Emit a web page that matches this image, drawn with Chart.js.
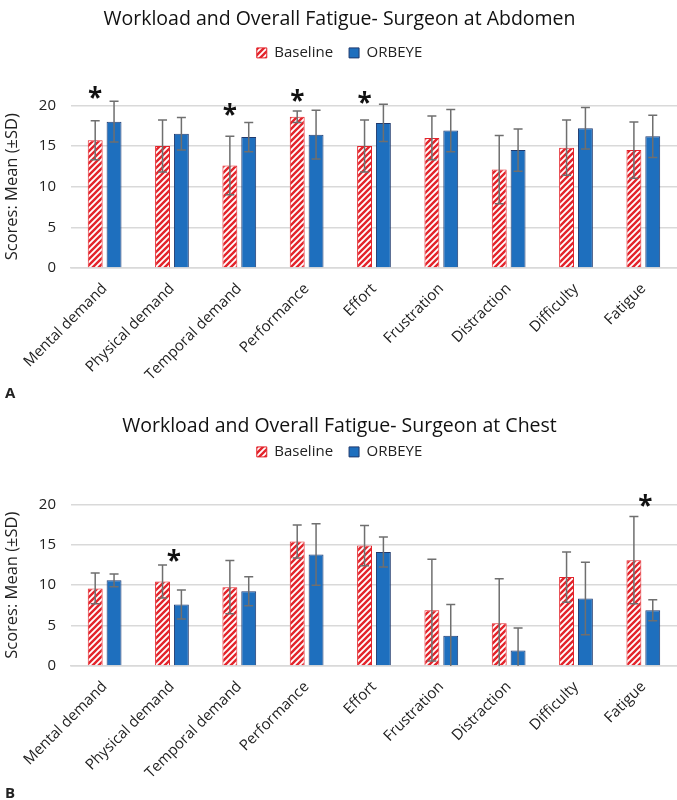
<!DOCTYPE html>
<html>
<head>
<meta charset="utf-8">
<script src="https://cdn.jsdelivr.net/npm/chart.js@4/dist/chart.umd.min.js"></script>
<style>
  body { margin: 0; background: #fff; }
  .panel { position: relative; width: 677px; }
  .tag { position: absolute; left: 5px; font: bold 15px "Open Sans", sans-serif; color: #222; }
</style>
</head>
<body>
<div class="panel" style="height:410px"><canvas id="chartA"></canvas><div class="tag" style="top:382px">A</div></div>
<div class="panel" style="height:390px"><canvas id="chartB"></canvas><div class="tag" style="top:372px">B</div></div>
<script>
const categories = ['Mental demand', 'Physical demand', 'Temporal demand', 'Performance', 'Effort', 'Frustration', 'Distraction', 'Difficulty', 'Fatigue'];
const yTicks = [0, 5, 10, 15, 20];

// Surgeon at abdomen
const abdBaseline = [15.7, 15.0, 12.6, 18.6, 15.0, 16.0, 12.1, 14.8, 14.5];
const abdBaselineSD = [2.4, 3.2, 3.6, 0.7, 3.2, 2.7, 4.2, 3.4, 3.45];
const abdOrbeye = [18.0, 16.5, 16.1, 16.4, 17.85, 16.9, 14.5, 17.2, 16.2];
const abdOrbeyeSD = [2.5, 2.0, 1.8, 3.0, 2.3, 2.6, 2.6, 2.55, 2.6];
const abdStarIdx = [0, 2, 3, 4];
const abdStarY = [21.4, 19.3, 21.1, 20.8];

// Surgeon at chest
const chestBaseline = [9.6, 10.45, 9.75, 15.4, 14.9, 6.9, 5.3, 11.0, 13.1];
const chestBaselineSD = [1.9, 2.05, 3.3, 2.05, 2.5, 6.3, 5.5, 3.1, 5.4];
const chestOrbeye = [10.6, 7.6, 9.25, 13.8, 14.1, 3.75, 1.9, 8.35, 6.9];
const chestOrbeyeSD = [0.8, 1.8, 1.8, 3.8, 1.85, 3.85, 2.8, 4.5, 1.3];
const chestStarIdx = [1, 8];
const chestStarY = [13.5, 20.3];

const FONT = '"Open Sans", sans-serif';
const RED = '#e3242b';
const BLUE = '#1e6fbe';
const NAVY = '#203a6e';

// red/white diagonal hatch
function makeHatch() {
    const c = document.createElement('canvas');
    c.width = 6; c.height = 6;
    const g = c.getContext('2d');
    g.fillStyle = '#fff';
    g.fillRect(0, 0, 6, 6);
    g.strokeStyle = RED;
    g.lineWidth = 2.4;
    g.beginPath();
    g.moveTo(-3, 3); g.lineTo(3, -3);
    g.moveTo(0, 6); g.lineTo(6, 0);
    g.moveTo(3, 9); g.lineTo(9, 3);
    g.stroke();
    return g.createPattern(c, 'repeat');
}
const hatch = makeHatch();

// error bars (mean +/- SD)
const errorBars = {
    id: 'errorBars',
    afterDatasetsDraw(chart) {
        const ctx = chart.ctx;
        const ys = chart.scales.y;
        const area = chart.chartArea;
        ctx.save();
        ctx.strokeStyle = '#6f6f6f';
        ctx.lineWidth = 1.5;
        chart.data.datasets.forEach(function(ds, di) {
            const meta = chart.getDatasetMeta(di);
            meta.data.forEach(function(bar, i) {
                const v = ds.data[i], sd = ds.sd[i];
                const top = ys.getPixelForValue(v + sd);
                const lowRaw = ys.getPixelForValue(v - sd);
                const low = Math.min(lowRaw, area.bottom);
                ctx.beginPath();
                ctx.moveTo(bar.x, top); ctx.lineTo(bar.x, low);
                ctx.moveTo(bar.x - 4.5, top); ctx.lineTo(bar.x + 4.5, top);
                if (lowRaw <= area.bottom) {
                    ctx.moveTo(bar.x - 4.5, low); ctx.lineTo(bar.x + 4.5, low);
                }
                ctx.stroke();
            });
        });
        ctx.restore();
    }
};

// significance asterisks
const stars = {
    id: 'stars',
    afterDraw(chart, args, opts) {
        const ctx = chart.ctx;
        const m0 = chart.getDatasetMeta(0), m1 = chart.getDatasetMeta(1);
        ctx.save();
        ctx.fillStyle = '#111';
        ctx.font = 'bold 26px ' + FONT;
        ctx.textAlign = 'center';
        ctx.textBaseline = 'middle';
        opts.idx.forEach(function(i, k) {
            const x = m0.data[i].x + (m1.data[i].x - m0.data[i].x) * opts.shift;
            const y = chart.scales.y.getPixelForValue(opts.y[k]);
            ctx.fillText('*', x, y + 6);
        });
        ctx.restore();
    }
};

// extra room under the legend
const legendGap = {
    id: 'legendGap',
    beforeInit(chart, args, opts) {
        const origFit = chart.legend.fit;
        chart.legend.fit = function() {
            origFit.bind(chart.legend)();
            this.height += opts.gap;
        };
    }
};

function createPanel(canvasId, title, base, baseSD, orb, orbSD, starIdx, starY, starShift, titlePad, gap, padBottom) {
    return new Chart(document.getElementById(canvasId), {
        type: 'bar',
        data: {
            labels: categories,
            datasets: [{
                label: 'Baseline',
                data: base,
                sd: baseSD,
                backgroundColor: hatch,
                borderColor: RED,
                borderWidth: 1,
                categoryPercentage: 0.56,
                barPercentage: 0.79
            }, {
                label: 'ORBEYE',
                data: orb,
                sd: orbSD,
                backgroundColor: BLUE,
                borderColor: NAVY,
                borderWidth: 1,
                categoryPercentage: 0.56,
                barPercentage: 0.79
            }]
        },
        options: {
            responsive: true,
            maintainAspectRatio: false,
            animation: false,
            layout: { padding: { left: 2, right: 0, top: 0, bottom: padBottom } },
            scales: {
                x: {
                    grid: { display: false },
                    border: { color: '#d9d9d9', width: 1.5 },
                    ticks: {
                        color: '#222',
                        font: { family: FONT, size: 15 },
                        minRotation: 45,
                        maxRotation: 45,
                        padding: 4
                    }
                },
                y: {
                    min: 0,
                    max: 20,
                    afterBuildTicks: function(axis) {
                        axis.ticks = yTicks.map(function(v) { return { value: v }; });
                    },
                    grid: { color: '#d9d9d9', lineWidth: 1.5, drawTicks: false },
                    border: { display: false },
                    ticks: {
                        color: '#222',
                        font: { family: FONT, size: 15 },
                        padding: 15
                    },
                    title: {
                        display: true,
                        text: 'Scores: Mean (±SD)',
                        color: '#222',
                        font: { family: FONT, size: 16.5 },
                        padding: { top: 0, bottom: 2 }
                    }
                }
            },
            plugins: {
                title: {
                    display: true,
                    text: title,
                    color: '#111',
                    font: { family: FONT, size: 19.5, weight: 'normal' },
                    padding: titlePad
                },
                legend: {
                    display: true,
                    labels: {
                        color: '#222',
                        font: { family: FONT, size: 15 },
                        boxWidth: 10,
                        boxHeight: 10,
                        padding: 16
                    }
                },
                tooltip: { enabled: false },
                stars: { idx: starIdx, y: starY, shift: starShift },
                legendGap: { gap: gap }
            }
        },
        plugins: [errorBars, stars, legendGap]
    });
}

createPanel('chartA', 'Workload and Overall Fatigue- Surgeon at Abdomen',
    abdBaseline, abdBaselineSD, abdOrbeye, abdOrbeyeSD, abdStarIdx, abdStarY, 0,
    { top: 8, bottom: -2 }, 35, 22);
createPanel('chartB', 'Workload and Overall Fatigue- Surgeon at Chest',
    chestBaseline, chestBaselineSD, chestOrbeye, chestOrbeyeSD, chestStarIdx, chestStarY, 0.6,
    { top: 5, bottom: -10 }, 35, 14);
</script>
</body>
</html>
